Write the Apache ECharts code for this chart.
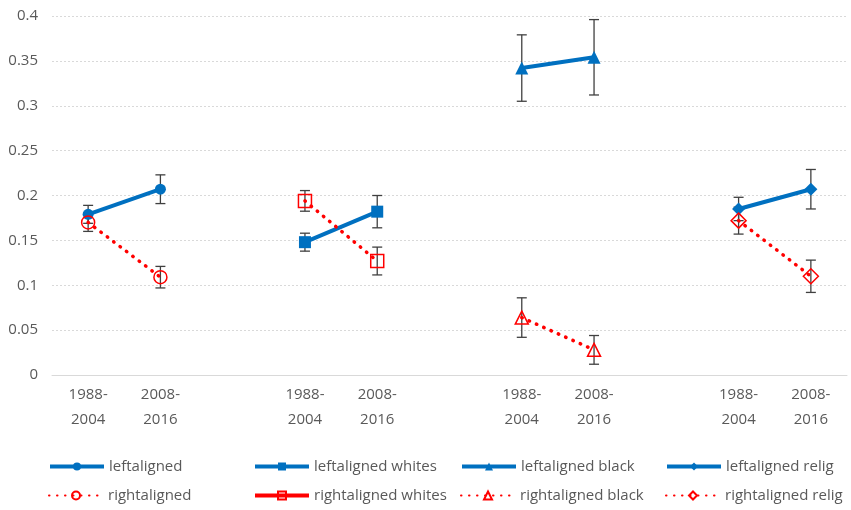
<!DOCTYPE html>
<html>
<head>
<meta charset="utf-8">
<script src="https://cdn.jsdelivr.net/npm/echarts@6/dist/echarts.min.js"></script>
<style>
html,body{margin:0;padding:0;background:#fff;}
#chart{width:851px;height:510px;}
</style>
</head>
<body>
<div id="chart"></div>
<script>
// Categories (blank entries separate the four groups)
const categories = ['1988-\n2004','2008-\n2016','','1988-\n2004','2008-\n2016','','1988-\n2004','2008-\n2016','','1988-\n2004','2008-\n2016'];
const yTicks = [0, 0.05, 0.1, 0.15, 0.2, 0.25, 0.3, 0.35, 0.4];

// Series values (null where the series has no point)
const leftaligned         = [0.179, 0.207, null, null, null, null, null, null, null, null, null];
const rightaligned        = [0.170, 0.109, null, null, null, null, null, null, null, null, null];
const leftalignedWhites   = [null, null, null, 0.148, 0.182, null, null, null, null, null, null];
const rightalignedWhites  = [null, null, null, 0.194, 0.127, null, null, null, null, null, null];
const leftalignedBlack    = [null, null, null, null, null, null, 0.342, 0.354, null, null, null];
const rightalignedBlack   = [null, null, null, null, null, null, 0.064, 0.028, null, null, null];
const leftalignedRelig    = [null, null, null, null, null, null, null, null, null, 0.185, 0.207];
const rightalignedRelig   = [null, null, null, null, null, null, null, null, null, 0.172, 0.110];

// Error bar half-widths
const errLeftaligned        = [0.010, 0.016, null, null, null, null, null, null, null, null, null];
const errRightaligned       = [0.010, 0.012, null, null, null, null, null, null, null, null, null];
const errLeftalignedWhites  = [null, null, null, 0.010, 0.018, null, null, null, null, null, null];
const errRightalignedWhites = [null, null, null, 0.0115, 0.0155, null, null, null, null, null, null];
const errLeftalignedBlack   = [null, null, null, null, null, null, 0.037, 0.042, null, null, null];
const errRightalignedBlack  = [null, null, null, null, null, null, 0.022, 0.016, null, null, null];
const errLeftalignedRelig   = [null, null, null, null, null, null, null, null, null, 0.013, 0.022];
const errRightalignedRelig  = [null, null, null, null, null, null, null, null, null, 0.015, 0.018];

const BLUE = '#0070C0', RED = '#FF0000', TXT = '#595959';
const FONT = '"Open Sans", sans-serif';

function errData(vals, errs) {
  const out = [];
  vals.forEach((v, i) => { if (v != null && errs[i] != null) out.push([i, v - errs[i], v + errs[i]]); });
  return out;
}
const allErr = [].concat(
  errData(leftaligned, errLeftaligned), errData(rightaligned, errRightaligned),
  errData(leftalignedWhites, errLeftalignedWhites), errData(rightalignedWhites, errRightalignedWhites),
  errData(leftalignedBlack, errLeftalignedBlack), errData(rightalignedBlack, errRightalignedBlack),
  errData(leftalignedRelig, errLeftalignedRelig), errData(rightalignedRelig, errRightalignedRelig)
);

function leftSeries(name, data, symbol, size) {
  return { name, type: 'line', data, symbol, symbolSize: size, connectNulls: false,
    lineStyle: { color: BLUE, width: 4 }, itemStyle: { color: BLUE }, z: 3, animation: false };
}
function rightSeries(name, data, symbol, size) {
  return { name, type: 'line', data, symbol, symbolSize: size, connectNulls: false,
    lineStyle: { color: RED, width: 3.5, type: [0.5, 7.5], cap: 'round' },
    itemStyle: { color: 'rgba(255,255,255,0)', borderColor: RED, borderWidth: 1.5 }, z: 4, animation: false };
}

const legendText = { color: TXT, fontSize: 15, fontFamily: FONT };
function legendItem(left, top, item) {
  return { orient: 'horizontal', left, top, padding: 0, itemWidth: 54, itemHeight: 10,
    textStyle: legendText, data: [item], selectedMode: false };
}
const solidBlue = { width: 4 };

const chart = echarts.init(document.getElementById('chart'), null, { renderer: 'canvas' });
chart.setOption({
  animation: false,
  grid: { left: 52, right: 4, top: 16, bottom: 135 },
  xAxis: {
    type: 'category', data: categories, boundaryGap: true,
    axisLine: { lineStyle: { color: '#D9D9D9', width: 1 } },
    axisTick: { show: false },
    axisLabel: { interval: 0, color: TXT, fontSize: 15, fontFamily: FONT, lineHeight: 25, margin: 7 },
    splitLine: { show: false }
  },
  yAxis: {
    type: 'value', min: yTicks[0], max: yTicks[yTicks.length - 1], interval: 0.05,
    axisLine: { show: false }, axisTick: { show: false },
    axisLabel: { color: TXT, fontSize: 15, fontFamily: FONT, margin: 14 },
    splitLine: { lineStyle: { color: '#D9D9D9', type: [2, 2], width: 1 } }
  },
  legend: [
    legendItem(48, 459, { name: 'leftaligned', lineStyle: solidBlue }),
    legendItem(48, 488, 'rightaligned'),
    legendItem(253, 459, { name: 'leftaligned whites', lineStyle: solidBlue }),
    legendItem(253, 488, { name: 'rightaligned whites', lineStyle: { type: 'solid', width: 4, cap: 'butt' } }),
    legendItem(460, 459, { name: 'leftaligned black', lineStyle: solidBlue }),
    legendItem(460, 488, 'rightaligned black'),
    legendItem(665, 459, { name: 'leftaligned relig', lineStyle: solidBlue }),
    legendItem(665, 488, 'rightaligned relig')
  ],
  series: [
    {
      type: 'custom', name: 'errors', data: allErr, z: 2, silent: true,
      encode: { x: 0, y: [1, 2] },
      renderItem: function (params, api) {
        const x = api.value(0);
        const lo = api.coord([x, api.value(1)]);
        const hi = api.coord([x, api.value(2)]);
        const w = 5;
        const st = { stroke: '#404040', lineWidth: 1.3 };
        return { type: 'group', children: [
          { type: 'line', shape: { x1: lo[0], y1: lo[1], x2: hi[0], y2: hi[1] }, style: st },
          { type: 'line', shape: { x1: lo[0] - w, y1: lo[1], x2: lo[0] + w, y2: lo[1] }, style: st },
          { type: 'line', shape: { x1: hi[0] - w, y1: hi[1], x2: hi[0] + w, y2: hi[1] }, style: st }
        ]};
      },
      animation: false
    },
    leftSeries('leftaligned', leftaligned, 'circle', 11),
    rightSeries('rightaligned', rightaligned, 'circle', 13),
    leftSeries('leftaligned whites', leftalignedWhites, 'rect', 12),
    rightSeries('rightaligned whites', rightalignedWhites, 'rect', 13),
    leftSeries('leftaligned black', leftalignedBlack, 'triangle', 13),
    rightSeries('rightaligned black', rightalignedBlack, 'triangle', 13),
    leftSeries('leftaligned relig', leftalignedRelig, 'diamond', 13),
    rightSeries('rightaligned relig', rightalignedRelig, 'diamond', 15)
  ]
});
</script>
</body>
</html>
